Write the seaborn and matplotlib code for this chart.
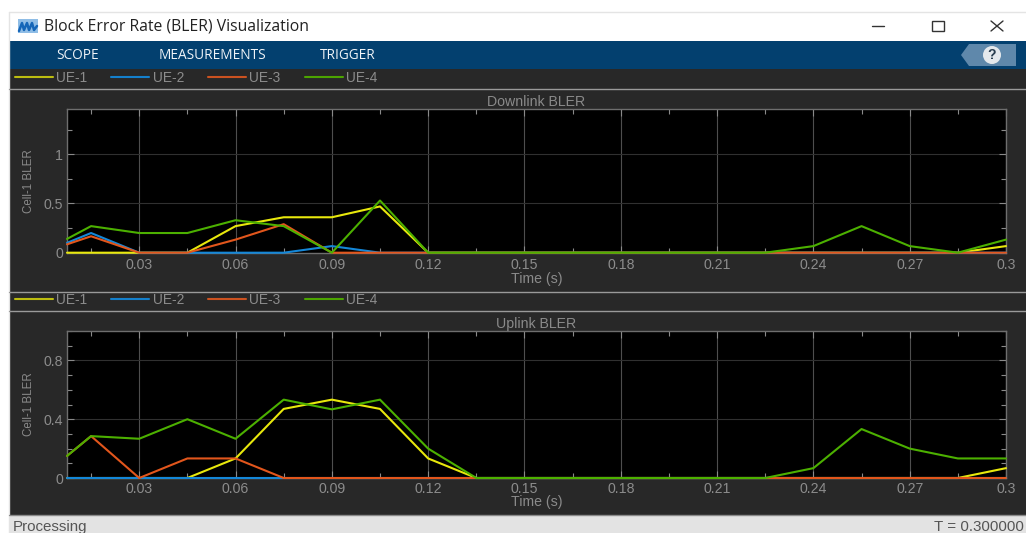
import matplotlib
matplotlib.use("Agg")
import matplotlib.pyplot as plt
from matplotlib.patches import Rectangle, Polygon, Circle
from matplotlib.ticker import MultipleLocator, FormatStrFormatter
import pandas as pd
import seaborn as sns

W, H = 1026, 533

# time axis (first sample sits on the left edge of the scope)
time_s = [0.0075, 0.015, 0.03, 0.045, 0.06, 0.075, 0.09, 0.105, 0.12, 0.135, 0.15,
          0.165, 0.18, 0.195, 0.21, 0.225, 0.24, 0.255, 0.27, 0.285, 0.3]
ue_names = ["UE-1", "UE-2", "UE-3", "UE-4"]
ue_colors = ["#E8E80C", "#1487D8", "#E2561C", "#4CB000"]
legend_colors = ["#BDBD10", "#1480CC", "#CC5220", "#4CA400"]

# downlink BLER
dl_ue1 = [0, 0, 0, 0, 0.27, 0.36, 0.36, 0.47, 0, 0, 0, 0, 0, 0, 0, 0, 0, 0, 0, 0, 0.067]
dl_ue2 = [0.10, 0.20, 0, 0, 0, 0, 0.067, 0, 0, 0, 0, 0, 0, 0, 0, 0, 0, 0, 0, 0, 0]
dl_ue3 = [0.085, 0.167, 0, 0, 0.133, 0.29, 0, 0, 0, 0, 0, 0, 0, 0, 0, 0, 0, 0, 0, 0, 0]
dl_ue4 = [0.14, 0.27, 0.20, 0.20, 0.33, 0.27, 0, 0.53, 0, 0, 0, 0, 0, 0, 0, 0, 0.067, 0.27, 0.067, 0, 0.133]

# uplink BLER
ul_ue1 = [0, 0, 0, 0, 0.133, 0.47, 0.533, 0.47, 0.133, 0, 0, 0, 0, 0, 0, 0, 0, 0, 0, 0, 0.067]
ul_ue2 = [0, 0, 0, 0, 0, 0, 0, 0, 0, 0, 0, 0, 0, 0, 0, 0, 0, 0, 0, 0, 0]
ul_ue3 = [0.15, 0.285, 0, 0.133, 0.133, 0, 0, 0, 0, 0, 0, 0, 0, 0, 0, 0, 0, 0, 0, 0, 0]
ul_ue4 = [0.15, 0.285, 0.267, 0.40, 0.267, 0.533, 0.467, 0.533, 0.20, 0, 0, 0, 0, 0, 0, 0, 0.067, 0.333, 0.20, 0.133, 0.133]

x_ticks = [0.03, 0.06, 0.09, 0.12, 0.15, 0.18, 0.21, 0.24, 0.27, 0.3]
x_labels = ["0.03", "0.06", "0.09", "0.12", "0.15", "0.18", "0.21", "0.24", "0.27", "0.3"]

sns.set_theme(style="dark")
plt.rcParams["font.family"] = ["Liberation Sans", "DejaVu Sans"]

PANEL = "#282828"
GREY = "#8A8A8A"

fig = plt.figure(figsize=(W / 100, H / 100), dpi=100, facecolor="white")

# window chrome, in pixel coordinates
bg = fig.add_axes([0, 0, 1, 1], zorder=0)
bg.set_xlim(0, W)
bg.set_ylim(H, 0)
bg.axis("off")


def box(x0, y0, x1, y1, color, **kw):
    bg.add_patch(Rectangle((x0, y0), x1 - x0, y1 - y0, facecolor=color, edgecolor="none", **kw))


box(9, 12, W, 41, "white")
bg.plot([9, W], [11.5, 11.5], color="#E4E4E4", lw=1)
bg.plot([9, 9], [12, H], color="#E4E4E4", lw=1)
box(9, 41, W, 69, "#03406F")
box(9, 69, W, 515, PANEL)
box(9, 515, W, H, "#E3E3E3")
for yy in [88.5, 291.5, 310.5]:
    bg.plot([9, W], [yy, yy], color="#9A9A9A", lw=1)
bg.plot([9, W], [514.5, 514.5], color="#8A8A8A", lw=1)

# title bar
box(18, 19, 38, 33, "#8FBDE6")
bg.plot([19, 22, 24, 27, 29, 32, 34, 37], [31, 23, 30, 23, 30, 23, 30, 26], color="#1566B8", lw=1.8)
bg.text(44, 26.5, "Block Error Rate (BLER) Visualization", family="Open Sans", fontsize=11.3,
        color="#222222", va="center", ha="left")
bg.plot([872, 884], [25.5, 25.5], color="#333333", lw=1)
bg.add_patch(Rectangle((931.5, 21), 12, 9.5, facecolor="none", edgecolor="#333333", lw=1))
bg.plot([991, 1003], [21, 31], color="#333333", lw=1)
bg.plot([991, 1003], [31, 21], color="#333333", lw=1)

# toolstrip
for tx, name in [(56, "SCOPE"), (159, "MEASUREMENTS"), (320, "TRIGGER")]:
    bg.text(tx, 55.5, name, family="Open Sans", fontsize=9.8, color="#F0F4F8", va="center", ha="left")
bg.add_patch(Polygon([[961, 55], [969, 44], [1016, 44], [1016, 66], [969, 66]], facecolor="#5F88AB", edgecolor="none"))
bg.add_patch(Circle((992, 55), 9, facecolor="#E4E8EC", edgecolor="none"))
bg.text(992, 55, "?", fontsize=10, fontweight="bold", color="#2A3E50", ha="center", va="center")

# status bar
bg.text(13, 527, "Processing", fontsize=10.9, color="#555555", va="center", ha="left")
bg.text(1024, 527, "T = 0.300000", fontsize=10.9, color="#555555", va="center", ha="right")


def scope(series, title, top, bottom, ymax, major, minor, legend_y, tick_pad, label_pad):
    rect = [67 / W, 1 - bottom / H, (1006 - 67) / W, (bottom - top) / H]
    ax = fig.add_axes(rect, zorder=1, facecolor="black")
    frame = pd.DataFrame({
        "time": time_s * len(ue_names),
        "bler": [v for s in series for v in s],
        "ue": [n for n in ue_names for _ in time_s],
    })
    sns.lineplot(data=frame, x="time", y="bler", hue="ue", hue_order=ue_names,
                 palette=ue_colors, errorbar=None, linewidth=1.5, ax=ax)
    for line in ax.get_lines():
        line.set_clip_on(False)
        line.set_zorder(3)
    ax.set_xlim(0.0075, 0.3)
    ax.set_ylim(0, ymax)
    ax.set_xticks(x_ticks, x_labels)
    ax.xaxis.set_minor_locator(MultipleLocator(0.015))
    ax.yaxis.set_major_locator(MultipleLocator(major))
    ax.yaxis.set_minor_locator(MultipleLocator(minor))
    ax.yaxis.set_major_formatter(FormatStrFormatter("%g"))
    ax.grid(True, axis="x", which="major", color="#4E4E4E", lw=0.8)
    ax.grid(True, axis="y", which="major", color="#303030", lw=0.8)
    ax.tick_params(axis="both", which="major", direction="in", length=5, width=0.8, color="#8A8A8A",
                   labelcolor="#8C8C8C", labelsize=10.2, top=True, right=True, bottom=True, left=True)
    ax.tick_params(axis="x", which="major", pad=tick_pad)
    ax.tick_params(axis="y", which="major", pad=3)
    ax.tick_params(axis="both", which="minor", direction="in", length=3.5, width=0.8, color="#8A8A8A",
                   top=True, right=True, bottom=True, left=True)
    for sp in ax.spines.values():
        sp.set_color("#6E6E6E")
        sp.set_linewidth(1)
    ax.set_title(title, color=GREY, fontsize=10.2, pad=2)
    ax.set_xlabel("Time (s)", color=GREY, fontsize=10.2, labelpad=label_pad)
    ax.set_ylabel("Cell-1 BLER", color=GREY, fontsize=8.3)
    ax.yaxis.set_label_coords((35 - 67) / (1006 - 67), 0.5)
    handles, labels = ax.get_legend_handles_labels()
    leg = ax.legend(handles, labels, ncol=4, frameon=False, loc="center left",
                    bbox_to_anchor=(15 / W, 1 - legend_y / H), bbox_transform=fig.transFigure,
                    borderaxespad=0, borderpad=0, handlelength=2.75, handletextpad=0.25,
                    columnspacing=1.75, fontsize=9.9, labelcolor="#8C8C8C")
    for handle, col in zip(leg.get_lines(), legend_colors):
        handle.set_color(col)
    return ax


scope([dl_ue1, dl_ue2, dl_ue3, dl_ue4], "Downlink BLER", 109, 252.7, 1.46, 0.5, 0.25, 77.5, 4, -0.5)
scope([ul_ue1, ul_ue2, ul_ue3, ul_ue4], "Uplink BLER", 331, 478, 1.0, 0.4, 0.1, 299.5, 3, -1)

fig.savefig("out.png", dpi=100)
